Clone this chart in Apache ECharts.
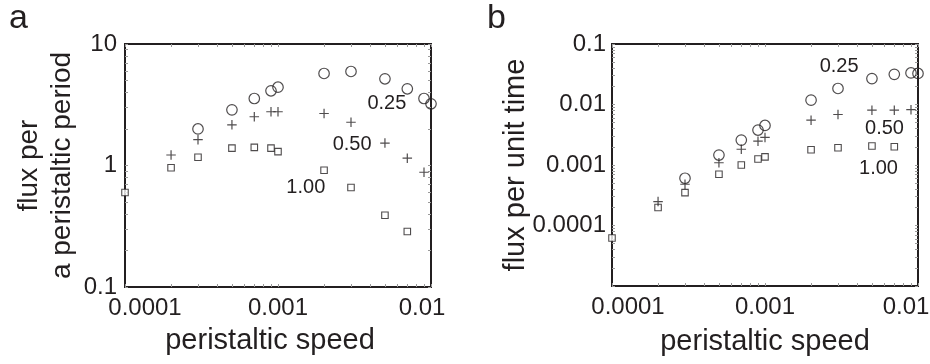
<!DOCTYPE html>
<html><head><meta charset="utf-8">
<script src="https://cdn.jsdelivr.net/npm/echarts@6/dist/echarts.min.js"></script>
<style>html,body{margin:0;padding:0;background:#fff}#c{width:930px;height:364px}</style>
</head><body><div id="c"></div>
<script>
// ---- data ----
const speedCircle = [0.0003, 0.0005, 0.0007, 0.0009, 0.001, 0.002, 0.003, 0.005, 0.007, 0.009, 0.01];
const speedPlus   = [0.0002, 0.0003, 0.0005, 0.0007, 0.0009, 0.001, 0.002, 0.003, 0.005, 0.007, 0.009];
const speedSquare = [0.0001, 0.0002, 0.0003, 0.0005, 0.0007, 0.0009, 0.001, 0.002, 0.003, 0.005, 0.007];

const fluxPeriod025 = [2.00, 2.87, 3.56, 4.12, 4.41, 5.72, 5.94, 5.17, 4.28, 3.56, 3.22];
const fluxPeriod050 = [1.22, 1.63, 2.16, 2.52, 2.77, 2.77, 2.68, 2.27, 1.53, 1.15, 0.88];
const fluxPeriod100 = [0.60, 0.957, 1.17, 1.39, 1.41, 1.39, 1.30, 0.915, 0.66, 0.39, 0.286];

const fluxTime025 = [0.000604, 0.00146, 0.00258, 0.00378, 0.00451, 0.0118, 0.0184, 0.0268, 0.0315, 0.0332, 0.0326];
const fluxTime050 = [0.000249, 0.000481, 0.00109, 0.00182, 0.00248, 0.00286, 0.00551, 0.00684, 0.00806, 0.00806, 0.0082];
const fluxTime100 = [0.000062, 0.000198, 0.00035, 0.000703, 0.001, 0.00126, 0.00136, 0.00179, 0.00193, 0.00206, 0.002];

const xTickLabels  = ['0.0001', '0.001', '0.01'];
const yTickLabelsA = ['0.1', '1', '10'];
const yTickLabelsB = ['', '0.0001', '0.001', '0.01', '0.1'];
const curveNames   = ['0.25', '0.50', '1.00'];
const panelNames   = ['a', 'b'];

// ---- styling ----
const INK = '#231f20';
const FONT = 'Liberation Sans';
const TICKFONT = 'Liberation Sans';
const TICKSIZE = 24;
const TICK = '#9a9a9a';

const lg = v => Math.log10(v);
function pairs(xs, ys) { return xs.map((x, i) => [lg(x), lg(ys[i])]); }
function minorTicks(lo, hi) {
  const out = [];
  for (let n = lo; n < hi; n++) for (let k = 1; k <= 9; k++) out.push(n + Math.log10(k));
  out.push(hi);
  return out;
}
const tickStyle = (vals) => ({show: true, inside: true, length: 3, customValues: vals, lineStyle: {color: TICK, width: 1}});

function xAxes(g, lo, hi, labels, name, nameGap, namePad, shiftL, shiftR) {
  const last = labels.length - 1;
  return [{
    type: 'value', gridIndex: g, position: 'bottom', min: lo, max: hi, interval: 1,
    name: name, nameLocation: 'middle', nameGap: nameGap, nameMoveOverlap: false,
    nameTextStyle: {fontSize: 29, color: INK, fontFamily: FONT, lineHeight: 32, padding: namePad},
    axisLine: {show: false, onZero: false}, splitLine: {show: false},
    axisTick: tickStyle(minorTicks(lo, hi)),
    axisLabel: {
      show: true, margin: 9, fontSize: TICKSIZE, color: INK, fontFamily: TICKFONT,
      showMinLabel: true, showMaxLabel: true,
      formatter: v => {
        const i = Math.round(v - lo);
        const s = labels[i];
        if (i === 0) return '{l|' + s + '}';
        if (i === last) return '{r|' + s + '}';
        return s;
      },
      rich: {
        l: {padding: [0, 0, 0, shiftL * 2], fontSize: TICKSIZE, color: INK, fontFamily: TICKFONT},
        r: {padding: [0, shiftR * 2, 0, 0], fontSize: TICKSIZE, color: INK, fontFamily: TICKFONT}
      }
    }
  }, {
    type: 'value', gridIndex: g, position: 'top', min: lo, max: hi, interval: 1,
    axisLine: {show: false, onZero: false}, splitLine: {show: false},
    axisTick: tickStyle(minorTicks(lo, hi)), axisLabel: {show: false}
  }];
}
function yAxes(g, lo, hi, labels, name, nameSize, nameGap, margin) {
  return [{
    type: 'value', gridIndex: g, position: 'left', min: lo, max: hi, interval: 1,
    name: name, nameLocation: 'middle', nameGap: nameGap, nameMoveOverlap: false,
    nameTextStyle: {fontSize: nameSize, color: INK, fontFamily: FONT, lineHeight: 33},
    axisLine: {show: false, onZero: false}, splitLine: {show: false},
    axisTick: tickStyle(minorTicks(lo, hi)),
    axisLabel: {
      show: true, margin: margin, fontSize: TICKSIZE, color: INK, fontFamily: TICKFONT,
      showMinLabel: true, showMaxLabel: true,
      formatter: v => labels[Math.round(v - lo)]
    }
  }, {
    type: 'value', gridIndex: g, position: 'right', min: lo, max: hi, interval: 1,
    axisLine: {show: false, onZero: false}, splitLine: {show: false},
    axisTick: tickStyle(minorTicks(lo, hi)), axisLabel: {show: false}
  }];
}

const circleStyle = {color: 'rgba(0,0,0,0)', borderColor: INK, borderWidth: 1.2};
const plusStyle   = {color: 'rgba(0,0,0,0)', borderColor: INK, borderWidth: 1.2};
const squareStyle = {color: '#ffffff', borderColor: INK, borderWidth: 1.1};

function annot(text, x, y) {
  return {
    symbol: 'rect', symbolSize: 1, itemStyle: {color: 'rgba(0,0,0,0)'},
    label: {show: true, position: 'inside', formatter: text, fontSize: 20, color: INK, fontFamily: FONT},
    emphasis: {disabled: true},
    data: [{coord: [lg(x), lg(y)]}],
    animation: false
  };
}
function series(xi, yi, xs, ys, kind, ann) {
  const base = {
    type: 'scatter', xAxisIndex: xi, yAxisIndex: yi, data: pairs(xs, ys),
    clip: false, animation: false, emphasis: {disabled: true}, silent: true
  };
  if (kind === 'circle') Object.assign(base, {symbol: 'circle', symbolSize: 10.5, itemStyle: circleStyle, z: 4});
  if (kind === 'plus') Object.assign(base, {symbol: 'path://M0,5L10,5M5,0L5,10', symbolSize: 9.5, itemStyle: plusStyle, z: 3});
  if (kind === 'square') Object.assign(base, {symbol: 'rect', symbolSize: 6.5, itemStyle: squareStyle, z: 2});
  base.markPoint = ann;
  return base;
}

const option = {
  backgroundColor: '#ffffff',
  animation: false,
  grid: [
    {left: 125, top: 44, width: 306, height: 243, show: true, borderColor: INK, borderWidth: 2, backgroundColor: 'rgba(0,0,0,0)', containLabel: false, outerBoundsMode: 'none'},
    {left: 612, top: 44, width: 306, height: 242, show: true, borderColor: INK, borderWidth: 2, backgroundColor: 'rgba(0,0,0,0)', containLabel: false, outerBoundsMode: 'none'}
  ],
  xAxis: [
    ...xAxes(0, -4, -2, xTickLabels, 'peristaltic speed', 38, [0, 16, 0, 0], 20, 9),
    ...xAxes(1, -4, -2, xTickLabels, 'peristaltic speed', 40, [0, 0, 0, 0], 16, 12)
  ],
  yAxis: [
    ...yAxes(0, -1, 1, yTickLabelsA, 'flux per\na peristaltic period', 28, 46, 8),
    ...yAxes(1, -5, -1, yTickLabelsB, 'flux per unit time', 29, 80, 6)
  ],
  graphic: [
    {type: 'text', left: 9, top: 2, style: {text: panelNames[0], font: '34px "Liberation Sans"', fill: INK}},
    {type: 'text', left: 487, top: 2, style: {text: panelNames[1], font: '34px "Liberation Sans"', fill: INK}}
  ],
  series: [
    series(0, 0, speedSquare, fluxPeriod100, 'square', annot(curveNames[2], 0.00152, 0.66)),
    series(0, 0, speedPlus, fluxPeriod050, 'plus', annot(curveNames[1], 0.00305, 1.49)),
    series(0, 0, speedCircle, fluxPeriod025, 'circle', annot(curveNames[0], 0.00515, 3.24)),
    series(2, 2, speedSquare, fluxTime100, 'square', annot(curveNames[2], 0.00552, 0.00088)),
    series(2, 2, speedPlus, fluxTime050, 'plus', annot(curveNames[1], 0.00604, 0.00405)),
    series(2, 2, speedCircle, fluxTime025, 'circle', annot(curveNames[0], 0.00305, 0.0422))
  ]
};

const chart = echarts.init(document.getElementById('c'), null, {renderer: 'canvas'});
chart.setOption(option);
</script>
</body></html>
